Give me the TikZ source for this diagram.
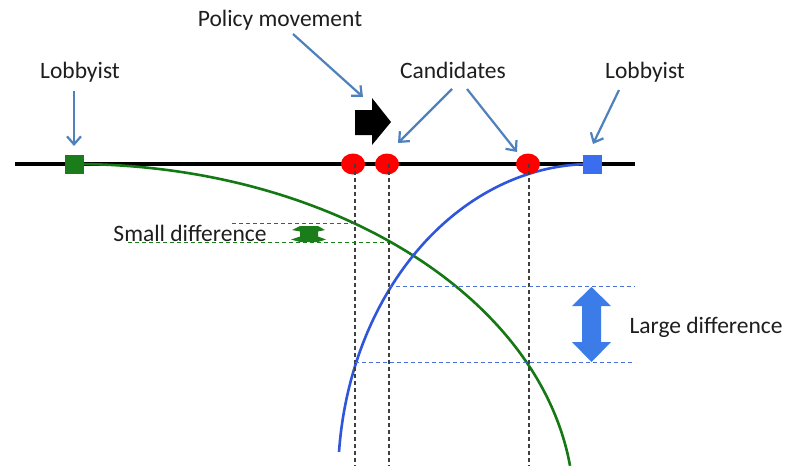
\documentclass[tikz,border=0pt]{standalone}
\usepackage{fontspec}
\setmainfont{Carlito}
\usetikzlibrary{arrows.meta,shapes.geometric}
\definecolor{callblue}{HTML}{4F81BD}
\definecolor{lobgreen}{HTML}{1A7D1A}
\definecolor{curvegreen}{HTML}{147814}
\definecolor{lobblue}{HTML}{3A6EEE}
\definecolor{curveblue}{HTML}{2F55DC}
\definecolor{dashblue}{HTML}{4A72D8}
\definecolor{bigarrow}{HTML}{3C7CE8}
\definecolor{txt}{HTML}{1E1E1E}
\tikzset{
  label/.style={inner sep=0pt, anchor=base, text=txt, font=\fontsize{23.5}{26}\selectfont},
  callout/.style={draw=callblue, line width=2.2pt, -{Straight Barb[length=8pt,width=14pt,line width=2.2pt]}},
  lobsq/.style={rectangle, minimum size=19pt, inner sep=0pt},
  cand/.style={ellipse, fill=red, minimum width=24pt, minimum height=21pt, inner sep=0pt},
  vdash/.style={draw=black!75, line width=1.2pt, dash pattern=on 4pt off 3pt},
  gdash/.style={draw=lobgreen, line width=1pt, dash pattern=on 4pt off 3pt},
  bdash/.style={draw=dashblue, line width=1pt, dash pattern=on 4pt off 3pt},
}
\begin{document}
\begin{tikzpicture}[x=1pt,y=-1pt]
\useasboundingbox[fill=white] (0,0) rectangle (788,466);

% policy axis
\coordinate (axl) at (15,164);
\coordinate (axr) at (635,164);
\draw[line width=3.2pt] (axl) -- (axr);

% lobbyist positions
\node[lobsq, fill=lobgreen] (gsq) at (74,164) {};
\node[lobsq, fill=lobblue] (bsq) at (592,164) {};

% utility curves of the two lobbyists
\draw[curvegreen, line width=2.6pt] (gsq.center) arc[start angle=270, end angle=352.8, x radius=500, y radius=345];
\draw[curveblue, line width=2.6pt] (bsq.center) arc[start angle=270, end angle=185.1, x radius=254, y radius=316];
\node[lobsq, fill=lobgreen] at (74,164) {};
\node[lobsq, fill=lobblue] at (592,164) {};

% candidates
\node[cand] (c1) at (353,164) {};
\node[cand] (c2) at (387,164) {};
\node[cand] (c3) at (528,164) {};

% projections of the candidates
\coordinate (c1b) at (355,466);
\coordinate (c2b) at (389,466);
\coordinate (c3b) at (529,466);
\draw[vdash] (c1.center) ++(2,0) coordinate (c1t) (c1t) -- (c1b);
\draw[vdash] (c2.center) ++(2,0) coordinate (c2t) (c2t) -- (c2b);
\draw[vdash] (c3.center) ++(1,0) coordinate (c3t) (c3t) -- (c3b);

% small difference on the green curve
\coordinate (gs1) at (232,223);
\coordinate (ge1) at (356,223);
\coordinate (gs2) at (128,242);
\coordinate (ge2) at (389,242);
\draw[gdash] (gs1) -- (ge1);
\draw[gdash] (gs2) -- (ge2);
\fill[lobgreen] (300,226) -- (318,226) -- (325,230) -- (318,231.5) -- (318,236.5) -- (326,239.5)
  -- (318,242) -- (300,242) -- (291,239.5) -- (300,236.5) -- (300,231.5) -- (292,230) -- cycle;

% large difference on the blue curve
\coordinate (bs1) at (389,286);
\coordinate (be1) at (635,286);
\coordinate (bs2) at (355,362);
\coordinate (be2) at (635,362);
\draw[bdash] (bs1) -- (be1);
\draw[bdash] (bs2) -- (be2);
\fill[bigarrow] (591.5,287) -- (611,306) -- (601,306) -- (601,342) -- (611,342) -- (591.5,362)
  -- (572,342) -- (582,342) -- (582,306) -- (572,306) -- cycle;

% policy movement arrow
\fill[black] (355,110) -- (372,110) -- (372,98) -- (391,122) -- (372,145) -- (372,135) -- (355,135) -- cycle;

% labels
\node[label] (lpol) at (280,26) {Policy movement};
\node[label] (llg) at (80,78) {Lobbyist};
\node[label] (lcand) at (453,78) {Candidates};
\node[label] (llb) at (645,78) {Lobbyist};
\node[label] (lsmall) at (190,241) {Small difference};
\node[label] (llarge) at (706,333) {Large difference};

% callouts
\coordinate (pg) at (74,146);
\coordinate (pp) at (363,97);
\coordinate (pc1) at (398,143);
\coordinate (pc3) at (517,152);
\coordinate (pb) at (593,144);
\draw[callout] (74,91) -- (pg);
\draw[callout] (293,34) -- (pp);
\draw[callout] (452,89) -- (pc1);
\draw[callout] (467,89) -- (pc3);
\draw[callout] (619,90) -- (pb);
\end{tikzpicture}
\end{document}
